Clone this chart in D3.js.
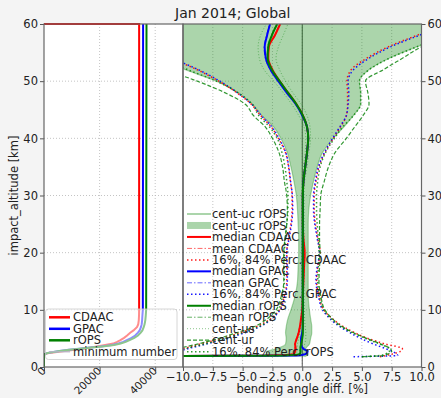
<!DOCTYPE html>
<html>
<head>
<meta charset="utf-8">
<script src="https://cdn.jsdelivr.net/npm/d3@7"></script>
<style>
  body { margin: 0; background: #f4f4f4; }
  text { font-family: "DejaVu Sans", sans-serif; }
</style>
</head>
<body>
<script>
// ---------- number of observations per altitude (left panel) ----------
const countAltitudes = [0, 2.1, 2.25, 2.4, 2.6, 2.8, 3.0, 3.2, 3.4, 3.6, 3.85, 4.1, 4.4, 4.7, 5.1, 5.5, 6.0, 6.4, 7.0, 7.5, 8.2, 9, 10, 60];
const countAltitudesCDAAC = [0, 2.1, 2.25, 2.4, 2.6, 2.8, 3.0, 3.2, 3.4, 3.6, 3.85, 4.1, 4.4, 4.7, 5.1, 5.5, 6.0, 6.4, 7.0, 7.5, 8.2, 9, 10, 60, 60];
const countsCDAAC = [0, 0, 400, 1300, 4000, 7500, 11000, 14100, 16800, 19000, 22000, 24900, 26300, 27500, 28800, 29900, 31000, 32200, 33500, 33900, 34100, 34180, 34220, 34220, 0];
const countsGPAC  = [0, 0, 300, 1000, 2800, 5500, 8800, 12500, 16500, 20500, 24500, 26800, 28500, 29800, 31500, 32800, 33800, 34400, 34900, 35150, 35300, 35400, 35550, 35650];
const countsROPS  = [0, 0, 300, 1000, 2900, 5700, 9100, 13000, 17000, 21000, 25200, 27600, 29400, 30800, 32500, 33800, 34800, 35400, 35900, 36200, 36450, 36600, 36750, 36870];

// ---------- bending angle difference statistics [%] (right panel) ----------
const altitudes = [1.8, 2.0, 2.3, 2.7, 3.2, 4, 5, 6, 7, 8.5, 10, 12.5, 15, 17.5, 20, 22.5, 25, 27.5, 30, 32.5, 35, 37.5, 40, 42, 44, 46, 48, 50, 52, 54, 56, 58, 60];

const medianCDAAC = [-20, -3.0, -0.7, -0.6, -0.55, -0.6, -0.45, -0.3, -0.2, -0.1, 0, 0.05, 0.1, 0.15, 0.2, 0.1, 0.05, 0.05, 0.05, 0.1, 0.25, 0.4, 0.5, 0.4, 0.05, -0.5, -1.2, -1.9, -2.5, -2.85, -2.8, -2.3, -1.85];
const meanCDAAC   = [-20, -4.0, -0.9, -0.75, -0.65, -0.65, -0.5, -0.35, -0.22, -0.1, 0, 0.05, 0.1, 0.18, 0.22, 0.1, 0.05, 0.05, 0.05, 0.1, 0.22, 0.38, 0.48, 0.35, 0, -0.55, -1.25, -1.95, -2.55, -2.9, -2.85, -2.35, -1.9];
const p16CDAAC    = [-20, -14, -12, -11, -10, -8.6, -6.8, -5.2, -3.9, -2.6, -1.9, -1.5, -1.3, -1.3, -1.3, -1.15, -0.95, -0.85, -0.85, -1.0, -1.15, -1.4, -2.0, -2.6, -3.5, -4.3, -5.5, -7.0, -8.8, -11, -13, -15, -17];
const p84CDAAC    = [6.5, 7.0, 7.6, 8.2, 8.4, 7.0, 5.5, 4.4, 3.5, 2.5, 1.8, 1.4, 1.2, 1.3, 1.5, 1.3, 1.1, 1.0, 1.0, 1.15, 1.4, 1.9, 2.6, 3.2, 3.7, 3.8, 3.8, 3.75, 4.1, 5.4, 7.2, 9.6, 12.2];

const medianGPAC = [-20, -0.5, 0.3, 0.45, 0.1, -0.1, -0.1, 0, 0.05, 0.05, 0.05, 0.05, 0.05, 0.05, 0.05, 0.05, 0.05, 0.05, 0.05, 0.1, 0.25, 0.4, 0.5, 0.4, 0, -0.55, -1.3, -2.0, -2.65, -3.05, -3.15, -2.95, -2.7];
const meanGPAC   = [-20, -1.0, 0.2, 0.4, 0.05, -0.15, -0.1, 0, 0.05, 0.05, 0.05, 0.05, 0.05, 0.05, 0.05, 0.05, 0.05, 0.05, 0.05, 0.1, 0.22, 0.38, 0.48, 0.38, 0, -0.6, -1.35, -2.05, -2.7, -3.1, -3.2, -3.0, -2.75];
const p16GPAC    = [-20, -13, -11.5, -10.5, -9.6, -8.1, -6.3, -4.8, -3.6, -2.5, -1.85, -1.45, -1.25, -1.25, -1.3, -1.1, -0.9, -0.8, -0.83, -0.98, -1.13, -1.38, -1.95, -2.55, -3.45, -4.25, -5.45, -6.9, -8.7, -10.9, -12.9, -14.9, -16.9];
const p84GPAC    = [4.3, 8.0, 7.9, 7.6, 7.0, 6.0, 4.9, 4.0, 3.2, 2.3, 1.7, 1.35, 1.15, 1.25, 1.45, 1.25, 1.05, 0.95, 0.95, 1.1, 1.35, 1.85, 2.55, 3.15, 3.7, 3.85, 3.9, 3.85, 4.3, 5.6, 7.4, 9.8, 12.4];

const medianROPS = [-20, -1.5, -0.2, -0.15, -0.15, -0.1, 0, 0.05, 0.05, 0.05, 0.05, 0.05, 0.05, 0.05, 0.05, 0.05, 0.05, 0.05, 0.05, 0.1, 0.25, 0.4, 0.5, 0.4, 0.05, -0.5, -1.2, -1.9, -2.55, -2.9, -2.85, -2.55, -2.1];
const meanROPS   = [-20, -2.0, -0.3, -0.2, -0.2, -0.12, 0, 0.05, 0.05, 0.05, 0.05, 0.05, 0.05, 0.05, 0.05, 0.05, 0.05, 0.05, 0.05, 0.1, 0.22, 0.38, 0.48, 0.38, 0.05, -0.55, -1.25, -1.95, -2.6, -2.95, -2.9, -2.6, -2.15];
const p16ROPS    = [-20, -12.5, -11, -10.5, -9.8, -8.2, -6.5, -5.0, -3.7, -2.6, -2.0, -1.65, -1.5, -1.5, -1.5, -1.4, -1.3, -1.2, -1.2, -1.3, -1.45, -1.7, -2.1, -2.75, -3.65, -4.2, -5.4, -7.2, -9.6, -11.8, -14, -16, -18];
const p84ROPS    = [5.0, 6.5, 7.0, 7.3, 7.3, 6.5, 5.3, 4.2, 3.3, 2.4, 1.8, 1.45, 1.3, 1.35, 1.4, 1.35, 1.25, 1.2, 1.2, 1.3, 1.5, 1.95, 2.7, 3.4, 4.3, 4.9, 4.9, 4.8, 5.6, 7.3, 9.6, 12.0, 14.3];

const centUcLo = [-3.5, -3.2, -3.0, -3.0, -2.2, -1.4, -1.35, -1.4, -1.35, -1.2, -0.95, -0.6, -0.4, -0.35, -0.3, -0.3, -0.35, -0.4, -0.5, -0.7, -0.95, -1.25, -1.8, -2.4, -3.4, -4.2, -5.4, -7.2, -9.8, -12, -14, -16, -18];
const centUcHi = [0.2, 0.4, 0.5, 0.3, 0.3, 0.6, 0.7, 0.8, 0.8, 0.7, 0.6, 0.5, 0.5, 0.5, 0.5, 0.5, 0.5, 0.55, 0.7, 0.95, 1.25, 1.7, 2.6, 3.5, 4.3, 4.9, 4.9, 4.8, 5.6, 7.3, 9.6, 12, 14.3];
const centUsLo = [-20, -2.0, -0.5, -0.45, -0.45, -0.4, -0.3, -0.2, -0.15, -0.1, -0.08, -0.05, -0.05, -0.05, -0.05, -0.05, -0.05, -0.05, -0.05, 0.0, 0.1, 0.25, 0.3, 0.15, -0.3, -0.9, -1.6, -2.4, -3.2, -3.6, -3.7, -3.5, -3.0];
const centUsHi = [-20, -1.0, 0.1, 0.15, 0.15, 0.2, 0.3, 0.3, 0.25, 0.2, 0.18, 0.15, 0.15, 0.15, 0.15, 0.15, 0.15, 0.15, 0.15, 0.2, 0.4, 0.55, 0.7, 0.65, 0.4, -0.1, -0.8, -1.4, -1.9, -2.2, -2.0, -1.6, -1.2];
const centUrLo = [-20, -13.5, -12, -11.3, -10.5, -8.8, -7.0, -5.5, -4.1, -2.9, -2.2, -1.75, -1.55, -1.55, -1.55, -1.45, -1.3, -1.25, -1.3, -1.5, -1.65, -1.95, -2.5, -3.1, -4.1, -4.8, -6.5, -8.8, -11.5, -14, -16, -18, -20];
const centUrHi = [5.0, 6.8, 7.2, 7.5, 7.4, 6.6, 5.4, 4.3, 3.4, 2.5, 1.9, 1.55, 1.4, 1.45, 1.5, 1.45, 1.45, 1.5, 1.55, 1.85, 2.2, 2.75, 3.7, 4.4, 5.1, 5.6, 5.5, 5.3, 6.8, 8.4, 10, 12.5, 15];

// ---------- ticks ----------
const altTicks = [0, 10, 20, 30, 40, 50, 60];
const countTicks = [0, 20000, 40000];
const pctTicks = [-10, -7.5, -5, -2.5, 0, 2.5, 5, 7.5, 10];

// ---------- layout ----------
const W = 441, H = 398;
const plotTop = 24, plotBottom = 367;
const lx0 = 44, lx1 = 183, rx0 = 183, rx1 = 421.5;
const FS = "11.5px";

const svg = d3.select("body").append("svg").attr("width", W).attr("height", H);
svg.append("rect").attr("width", W).attr("height", H).attr("fill", "#f4f4f4");

const y = d3.scaleLinear().domain([0, 60]).range([plotBottom, plotTop]);
const xL = d3.scaleLinear().domain([0, 50000]).range([lx0, lx1]);
const xR = d3.scaleLinear().domain([-10, 10]).range([rx0, rx1]);

svg.append("rect").attr("x", lx0).attr("y", plotTop).attr("width", lx1 - lx0).attr("height", plotBottom - plotTop).attr("fill", "#fff");
svg.append("rect").attr("x", rx0).attr("y", plotTop).attr("width", rx1 - rx0).attr("height", plotBottom - plotTop).attr("fill", "#fff");

const defs = svg.append("defs");
defs.append("clipPath").attr("id", "clipL").append("rect")
  .attr("x", lx0).attr("y", plotTop - 1).attr("width", lx1 - lx0).attr("height", plotBottom - plotTop + 2);
defs.append("clipPath").attr("id", "clipR").append("rect")
  .attr("x", rx0).attr("y", plotTop).attr("width", rx1 - rx0).attr("height", plotBottom - plotTop);

// ---------- grids ----------
const gridStyle = g => g.attr("stroke", "#b5b5b5").attr("stroke-width", 0.8).attr("stroke-dasharray", "1,2");
const gL = svg.append("g").call(gridStyle);
altTicks.slice(1, -1).forEach(a => {
  gL.append("line").attr("x1", lx0).attr("x2", lx1).attr("y1", y(a)).attr("y2", y(a));
  gL.append("line").attr("x1", rx0).attr("x2", rx1).attr("y1", y(a)).attr("y2", y(a));
});
countTicks.slice(1).forEach(c => gL.append("line").attr("x1", xL(c)).attr("x2", xL(c)).attr("y1", plotTop).attr("y2", plotBottom));
pctTicks.slice(1, -1).forEach(p => gL.append("line").attr("x1", xR(p)).attr("x2", xR(p)).attr("y1", plotTop).attr("y2", plotBottom));

// zero reference line
svg.append("line").attr("x1", xR(0)).attr("x2", xR(0)).attr("y1", plotTop).attr("y2", plotBottom)
  .attr("stroke", "#555").attr("stroke-width", 1);

// ---------- left panel: number of observations ----------
const countLine = d3.line().x(d => xL(d[0])).y(d => y(d[1]));
const pL = svg.append("g").attr("clip-path", "url(#clipL)");
[[countsCDAAC, countAltitudesCDAAC, "#ff0000"],
 [countsGPAC, countAltitudes, "#0000ff"],
 [countsROPS, countAltitudes, "#008000"]].forEach(([vals, alts, col]) => {
  pL.append("path").datum(d3.zip(vals, alts)).attr("d", countLine)
    .attr("fill", "none").attr("stroke", col).attr("stroke-width", 2);
});

// ---------- right panel: bending angle statistics ----------
const pR = svg.append("g").attr("clip-path", "url(#clipR)");
const profile = d3.line().x(d => xR(d[0])).y(d => y(d[1])).curve(d3.curveMonotoneY);
const band = d3.area().y(d => y(d[2])).x0(d => xR(d[0])).x1(d => xR(d[1])).curve(d3.curveMonotoneY);

pR.append("path").datum(d3.zip(centUcLo, centUcHi, altitudes)).attr("d", band)
  .attr("fill", "#008000").attr("fill-opacity", 0.33).attr("stroke", "none");

function drawProfile(vals, color, width, dash, opacity) {
  pR.append("path").datum(d3.zip(vals, altitudes)).attr("d", profile)
    .attr("fill", "none").attr("stroke", color).attr("stroke-width", width)
    .attr("stroke-dasharray", dash).attr("stroke-opacity", opacity);
}

const DOT = "1.5,2.5", DASHDOT = "5,2,1.5,2", DASH = "4,2";
// band edges
drawProfile(centUcLo, "#008000", 1.2, null, 0.3);
drawProfile(centUcHi, "#008000", 1.2, null, 0.3);
// CDAAC
drawProfile(medianCDAAC, "#ff0000", 2, null, 1);
drawProfile(meanCDAAC, "#ff0000", 1, DASHDOT, 0.6);
drawProfile(p16CDAAC, "#ff0000", 1.5, DOT, 0.9);
drawProfile(p84CDAAC, "#ff0000", 1.5, DOT, 0.9);
// GPAC
drawProfile(medianGPAC, "#0000ff", 2, null, 1);
drawProfile(meanGPAC, "#0000ff", 1, DASHDOT, 0.6);
drawProfile(p16GPAC, "#0000ff", 1.5, DOT, 0.9);
drawProfile(p84GPAC, "#0000ff", 1.5, DOT, 0.9);
// rOPS
drawProfile(medianROPS, "#008000", 2, null, 1);
drawProfile(meanROPS, "#008000", 1, DASHDOT, 0.6);
drawProfile(centUsLo, "#008000", 1, "1,2", 0.45);
drawProfile(centUsHi, "#008000", 1, "1,2", 0.45);
drawProfile(centUrLo, "#008000", 1.2, DASH, 0.8);
drawProfile(centUrHi, "#008000", 1.2, DASH, 0.8);
drawProfile(p16ROPS, "#008000", 1.5, DOT, 0.8);
drawProfile(p84ROPS, "#008000", 1.5, DOT, 0.8);

// ---------- axes ----------
function styleAxis(g) {
  g.select(".domain").remove();
  g.selectAll(".tick line").attr("stroke", "#555");
  g.selectAll(".tick text").attr("fill", "#222").style("font-size", FS).style("font-family", "DejaVu Sans");
}
svg.append("g").attr("transform", `translate(${lx0},0)`)
  .call(d3.axisLeft(y).tickValues(altTicks).tickSize(4).tickPadding(2)).call(styleAxis);
svg.append("g").attr("transform", `translate(${rx1},0)`)
  .call(d3.axisRight(y).tickValues(altTicks).tickSize(4).tickPadding(2)).call(styleAxis);
svg.append("g").attr("transform", `translate(0,${plotBottom})`)
  .call(d3.axisBottom(xR).tickValues(pctTicks).tickFormat(d3.format(".1f")).tickSize(4).tickPadding(2)).call(styleAxis);
const axL = svg.append("g").attr("transform", `translate(0,${plotBottom})`)
  .call(d3.axisBottom(xL).tickValues(countTicks).tickFormat(d3.format("d")).tickSize(4).tickPadding(2)).call(styleAxis);
axL.selectAll(".tick text")
  .attr("y", 0).attr("dy", 0)
  .attr("text-anchor", "end")
  .style("font-size", "10.5px")
  .attr("transform", "translate(2,4.5) rotate(-45)");

// spines
[[lx0, lx1], [rx0, rx1]].forEach(([a, b]) => {
  svg.append("rect").attr("x", a).attr("y", plotTop).attr("width", b - a).attr("height", plotBottom - plotTop)
    .attr("fill", "none").attr("stroke", "#666").attr("stroke-width", 1.2);
});

// ---------- labels ----------
svg.append("text").attr("x", (lx0 + rx1) / 2).attr("y", 18).attr("text-anchor", "middle")
  .style("font-size", "14px").attr("fill", "#222").text("Jan 2014; Global");
svg.append("text").attr("transform", `translate(18,${(plotTop + plotBottom) / 2}) rotate(-90)`)
  .attr("text-anchor", "middle").style("font-size", FS).attr("fill", "#222").text("impact_altitude [km]");
svg.append("text").attr("x", (rx0 + rx1) / 2).attr("y", 393).attr("text-anchor", "middle")
  .style("font-size", FS).attr("fill", "#222").text("bending angle diff. [%]");

// ---------- legend, left panel ----------
const legL = svg.append("g");
legL.append("rect").attr("x", 45.5).attr("y", 309).attr("width", 131.5).attr("height", 50.5).attr("rx", 3)
  .attr("fill", "#fff").attr("fill-opacity", 0.55).attr("stroke", "#cccccc").attr("stroke-width", 0.8);
const leftItems = [
  ["CDAAC", "#ff0000", 2.5, null],
  ["GPAC", "#0000ff", 2.5, null],
  ["rOPS", "#008000", 2.5, null],
  ["minimum number", "#b4b4c8", 1.2, null]
];
leftItems.forEach(([label, col, w, dash], i) => {
  const yy = 317.3 + i * 11.5;
  legL.append("line").attr("x1", 49).attr("x2", 70).attr("y1", yy).attr("y2", yy)
    .attr("stroke", col).attr("stroke-width", w);
  legL.append("text").attr("x", 73).attr("y", yy).attr("dy", "0.36em")
    .style("font-size", FS).attr("fill", "#222").text(label);
});

// ---------- legend, right panel ----------
const legR = svg.append("g");
const rightItems = [
  ["cent-uc rOPS", "#008000", 2, null, 0.33, "line"],
  ["cent-uc rOPS", "#008000", 0, null, 0.33, "patch"],
  ["median CDAAC", "#ff0000", 2, null, 1, "line"],
  ["mean CDAAC", "#ff0000", 1, DASHDOT, 0.6, "line"],
  ["16%, 84% Perc. CDAAC", "#ff0000", 1.5, DOT, 0.9, "line"],
  ["median GPAC", "#0000ff", 2, null, 1, "line"],
  ["mean GPAC", "#0000ff", 1, DASHDOT, 0.6, "line"],
  ["16%, 84% Perc. GPAC", "#0000ff", 1.5, DOT, 0.9, "line"],
  ["median rOPS", "#008000", 2, null, 1, "line"],
  ["mean rOPS", "#008000", 1, DASHDOT, 0.6, "line"],
  ["cent-us", "#008000", 1, "1,2", 0.45, "line"],
  ["cent-ur", "#008000", 1.2, DASH, 0.8, "line"],
  ["16%, 84% Perc. rOPS", "#008000", 1.5, DOT, 0.8, "line"]
];
rightItems.forEach(([label, col, w, dash, op, kind], i) => {
  const yy = 214 + i * 11.47;
  if (kind === "patch") {
    legR.append("rect").attr("x", 187).attr("y", yy - 3.5).attr("width", 24).attr("height", 7)
      .attr("fill", col).attr("fill-opacity", op);
  } else {
    legR.append("line").attr("x1", 187).attr("x2", 211).attr("y1", yy).attr("y2", yy)
      .attr("stroke", col).attr("stroke-width", w).attr("stroke-dasharray", dash).attr("stroke-opacity", op);
  }
  legR.append("text").attr("x", 212).attr("y", yy).attr("dy", "0.36em")
    .style("font-size", FS).attr("fill", "#222").text(label);
});
</script>
</body>
</html>
